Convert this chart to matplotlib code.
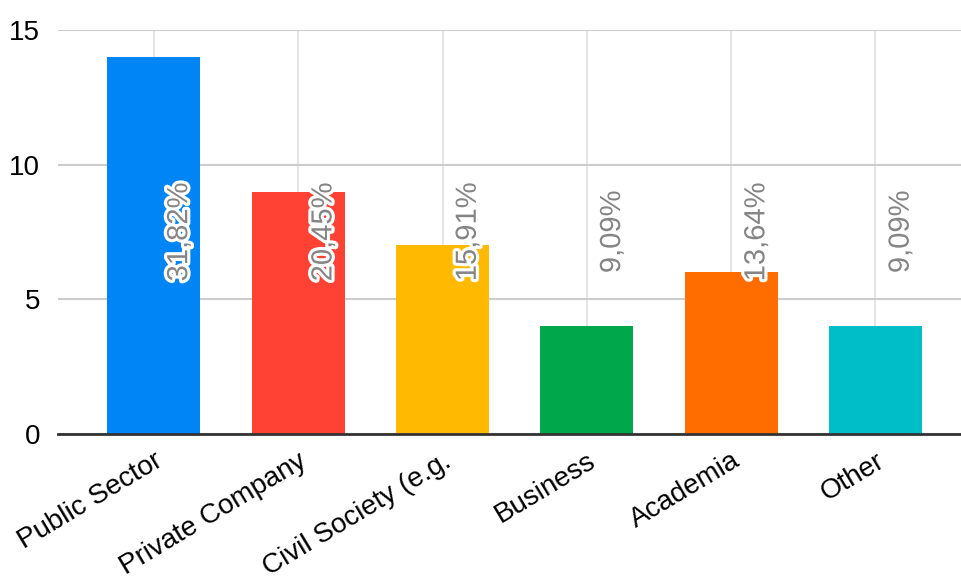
import matplotlib.pyplot as plt
import matplotlib.patheffects as pe

categories = ['Public Sector', 'Private Company', 'Civil Society (e.g.', 'Business', 'Academia', 'Other']
counts = [14, 9, 7, 4, 6, 4]
colors = ['#0085F7', '#FF4233', '#FFBA00', '#00A84B', '#FF6D00', '#00BEC7']

total = sum(counts)
pct_labels = [f'{c / total * 100:.2f}%'.replace('.', ',') for c in counts]

plt.rcParams['font.family'] = ['Liberation Sans', 'DejaVu Sans']

fig = plt.figure(figsize=(9.62, 5.88), dpi=100)
ax = fig.add_axes([0.0603, 0.262, 0.9397, 0.687])

x = list(range(len(categories)))
ax.bar(x, counts, width=0.645, color=colors, zorder=2)

# percentage labels, rotated, with a white halo
for i, lab in enumerate(pct_labels):
    ax.text(i + 0.175, 7.5, lab, rotation=90, ha='center', va='center',
            fontsize=21, color='#858585', zorder=4,
            path_effects=[pe.withStroke(linewidth=4.5, foreground='white')])

ax.set_ylim(0, 15)
ax.set_xlim(-0.665, 5.6)
ax.set_yticks([0, 5, 10, 15])
ax.set_xticks(x)
ax.set_xticklabels(categories, rotation=31, ha='right', rotation_mode='anchor', fontsize=20)
ax.tick_params(axis='y', length=0, labelsize=20, pad=13)
ax.tick_params(axis='x', length=0, pad=10)

ax.grid(axis='y', color='#cccccc', linewidth=1.5, zorder=0)
ax.grid(axis='x', color='#e6e6e6', linewidth=1.5, zorder=0)
for side in ['top', 'right', 'left']:
    ax.spines[side].set_visible(False)
ax.spines['bottom'].set_color('#333333')
ax.spines['bottom'].set_linewidth(2)
ax.spines['bottom'].set_zorder(3)

fig.savefig('out.png', dpi=100)
